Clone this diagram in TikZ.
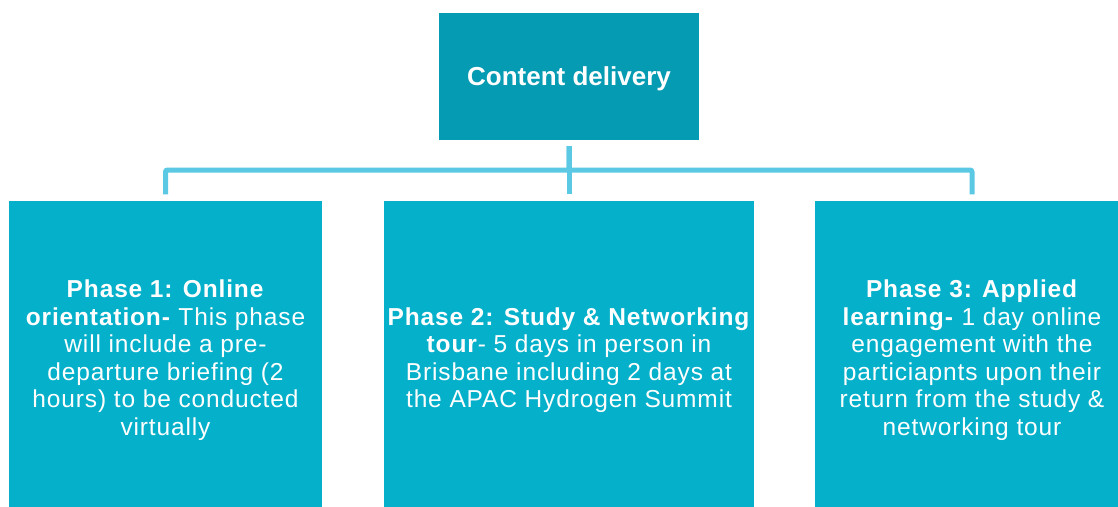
\documentclass[tikz,border=0pt]{standalone}
\usepackage{fontspec}
\setmainfont{Liberation Sans}
\newfontfamily\phasefont[LetterSpace=3.5]{Liberation Sans}
\definecolor{topteal}{RGB}{5,155,178}
\definecolor{boxteal}{RGB}{5,176,202}
\definecolor{linkblue}{RGB}{91,200,228}
\tikzset{
  phase/.style={fill=boxteal, text=white, minimum height=319pt, inner xsep=0pt,
    align=center, font=\phasefont\fontsize{24.5}{27.5}\selectfont},
  link/.style={draw=linkblue, line width=5pt, rounded corners=2pt}
}

\begin{document}
\begin{tikzpicture}[x=1pt,y=-1pt]
\useasboundingbox (0,0) rectangle (1118,506);
\clip (0,0) rectangle (1118,506);
\node[fill=topteal, text=white, minimum width=260pt, minimum height=127pt, text depth=0pt,
  font=\fontsize{26}{30}\selectfont\bfseries] (cont) at (569,76.5) {Content delivery};
\node[phase, minimum width=313pt] (ph1) at (165.5,360) {\textbf{Phase 1: Online}\\
  \textbf{orientation-} This phase\\ will include a pre-\\ departure briefing (2\\
  hours) to be conducted\\ virtually};
\node[phase, minimum width=370pt] (ph2) at (569,360) {\textbf{Phase 2: Study \& Networking}\\
  \textbf{tour}- 5 days in person in\\ Brisbane including 2 days at\\ the APAC Hydrogen Summit};
\node[phase, minimum width=314pt] (ph3) at (972,360) {\textbf{Phase 3: Applied}\\
  \textbf{learning-} 1 day online\\ engagement with the\\ particiapnts upon their\\
  return from the study \&\\ networking tour};
\coordinate (bus) at (569,170);
\draw[link] ([yshift=-6pt]cont.south) -- ([yshift=6pt]ph2.north);
\draw[link] ([yshift=-6pt]cont.south) -- (bus) -| ([yshift=6pt]ph1.north);
\draw[link] ([yshift=-6pt]cont.south) -- (bus) -| ([yshift=6pt]ph3.north);
\end{tikzpicture}
\end{document}
